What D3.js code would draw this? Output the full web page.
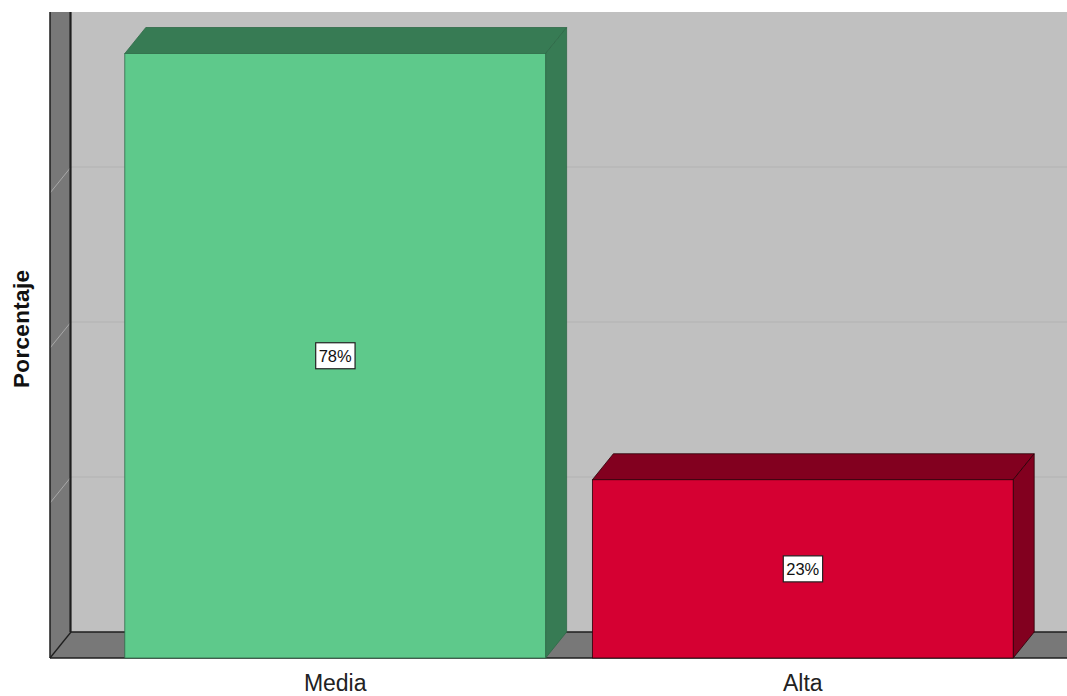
<!DOCTYPE html>
<html>
<head>
<meta charset="utf-8">
<script src="https://cdn.jsdelivr.net/npm/d3@7"></script>
<style>
  html, body { margin: 0; padding: 0; background: #fff; }
  svg { display: block; }
</style>
</head>
<body>
<svg id="chart" width="1067" height="696"></svg>
<script>
// Data
const categories = ["Media", "Alta"];
const percentages = [78, 23];
const labels = ["78%", "23%"];
const yTicks = [20, 40, 60];

const faceColors = ["#5ec98b", "#d50032"];
const darkColors = ["#377b54", "#82001f"];
const edgeColors = ["#2f6a48", "#2a0008"];

const W = 1067, H = 696;
const svg = d3.select("#chart");

// 3D depth offset of the chart box
const dx = 21, dy = 26;
const frontLeft = 50, floorFront = 658, wallTop = 12;

const x = d3.scaleBand()
  .domain(categories)
  .range([frontLeft, 1088])
  .paddingInner(0.1)
  .paddingOuter(0.16);

const y = d3.scaleLinear()
  .domain([0, 80])
  .range([floorFront, wallTop + dy]);

const backLeft = frontLeft + dx;
const floorBack = floorFront - dy;

// Back wall
svg.append("rect")
  .attr("x", backLeft).attr("y", wallTop)
  .attr("width", W - backLeft).attr("height", floorBack - wallTop)
  .attr("fill", "#c0c0c0");

// Gridlines on back wall
svg.append("g").selectAll("line").data(yTicks).join("line")
  .attr("x1", backLeft).attr("x2", W)
  .attr("y1", d => y(d) - dy).attr("y2", d => y(d) - dy)
  .attr("stroke", "#b2b2b2").attr("stroke-width", 1.2);

// Left side wall
svg.append("path")
  .attr("d", `M${frontLeft},${wallTop} L${backLeft},${wallTop} L${backLeft},${floorBack} L${frontLeft},${floorFront} Z`)
  .attr("fill", "#787878");

// Floor
svg.append("path")
  .attr("d", `M${frontLeft},${floorFront} L${backLeft},${floorBack} L${W},${floorBack} L${W},${floorFront} Z`)
  .attr("fill", "#787878");

// Tick marks across the side wall
svg.append("g").selectAll("line").data(yTicks).join("line")
  .attr("x1", frontLeft).attr("y1", d => y(d))
  .attr("x2", backLeft).attr("y2", d => y(d) - dy)
  .attr("stroke", "#a8a8a8").attr("stroke-width", 1);

// Wall / floor edges
const edges = svg.append("g").attr("stroke", "#1e1e1e").attr("fill", "none");
edges.append("line").attr("x1", frontLeft).attr("y1", wallTop).attr("x2", frontLeft).attr("y2", floorFront).attr("stroke-width", 1.5);
edges.append("line").attr("x1", backLeft - 0.5).attr("y1", wallTop).attr("x2", backLeft - 0.5).attr("y2", floorBack).attr("stroke-width", 2.2);
edges.append("line").attr("x1", backLeft).attr("y1", floorBack).attr("x2", W).attr("y2", floorBack).attr("stroke-width", 1.3);
edges.append("line").attr("x1", frontLeft).attr("y1", floorFront).attr("x2", backLeft).attr("y2", floorBack).attr("stroke-width", 1.3);
edges.append("line").attr("x1", frontLeft).attr("y1", floorFront).attr("x2", W).attr("y2", floorFront).attr("stroke-width", 1.3);

// Bars
const bars = svg.append("g").selectAll("g").data(categories).join("g");
bars.each(function(c, i) {
  const g = d3.select(this);
  const x0 = x(c), x1 = x(c) + x.bandwidth();
  const yt = y(percentages[i]), yb = y(0);
  // top face
  g.append("path")
    .attr("d", `M${x0},${yt} L${x0 + dx},${yt - dy} L${x1 + dx},${yt - dy} L${x1},${yt} Z`)
    .attr("fill", darkColors[i]).attr("stroke", edgeColors[i]).attr("stroke-width", 0.8);
  // side face
  g.append("path")
    .attr("d", `M${x1},${yt} L${x1 + dx},${yt - dy} L${x1 + dx},${yb - dy} L${x1},${yb} Z`)
    .attr("fill", darkColors[i]).attr("stroke", edgeColors[i]).attr("stroke-width", 0.8);
  // front face
  g.append("rect")
    .attr("x", x0).attr("y", yt)
    .attr("width", x1 - x0).attr("height", yb - yt)
    .attr("fill", faceColors[i]).attr("stroke", edgeColors[i]).attr("stroke-width", 0.8);

  // value label
  const cx = (x0 + x1) / 2, cy = (yt + yb) / 2;
  const lg = g.append("g");
  const t = lg.append("text")
    .attr("x", cx).attr("y", cy + 0.5)
    .attr("text-anchor", "middle").attr("dominant-baseline", "central")
    .attr("font-family", "Liberation Sans, Arial, sans-serif")
    .attr("font-size", 16.5).attr("fill", "#111")
    .text(labels[i]);
  const bb = t.node().getBBox();
  lg.insert("rect", "text")
    .attr("x", bb.x - 3).attr("y", cy - 13)
    .attr("width", bb.width + 6).attr("height", 26)
    .attr("fill", "#fff").attr("stroke", "#222").attr("stroke-width", 1.2);
});

// Category axis labels
svg.append("g").selectAll("text").data(categories).join("text")
  .attr("x", d => x(d) + x.bandwidth() / 2)
  .attr("y", 691)
  .attr("text-anchor", "middle")
  .attr("font-family", "Liberation Sans, Arial, sans-serif")
  .attr("font-size", 23).attr("fill", "#222")
  .text(d => d);

// Y axis title
svg.append("text")
  .attr("transform", `translate(29, 329) rotate(-90)`)
  .attr("text-anchor", "middle")
  .attr("font-family", "Liberation Sans, Arial, sans-serif")
  .attr("font-size", 22.5).attr("font-weight", "bold").attr("fill", "#111")
  .attr("textLength", 118).attr("lengthAdjust", "spacing")
  .text("Porcentaje");
</script>
</body>
</html>
